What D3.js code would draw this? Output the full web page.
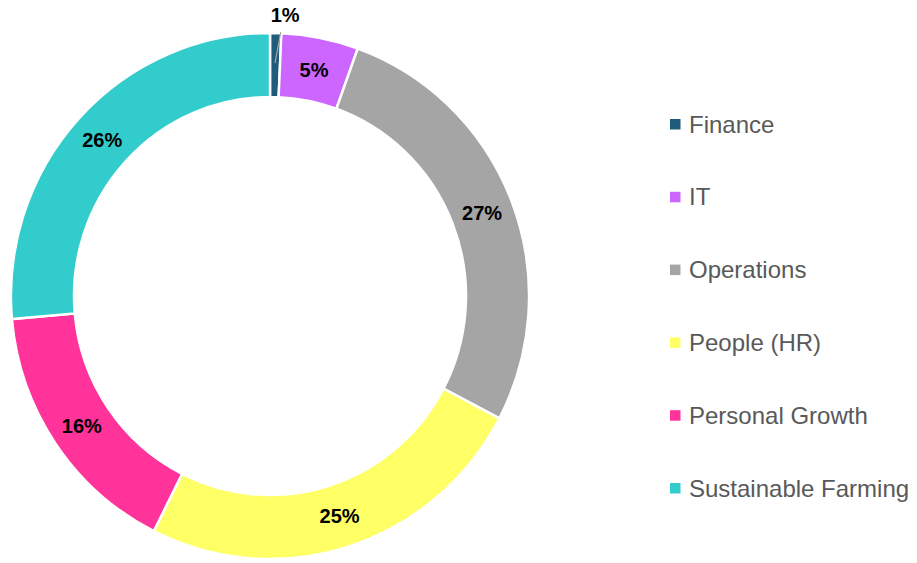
<!DOCTYPE html>
<html>
<head>
<meta charset="utf-8">
<script src="https://cdn.jsdelivr.net/npm/d3@7"></script>
<style>
  body { margin: 0; background: #fff; }
  svg { display: block; }
</style>
</head>
<body>
<script>
'use strict';

var categories = ['Finance', 'IT', 'Operations', 'People (HR)', 'Personal Growth', 'Sustainable Farming'];
var values = [0.7, 4.8, 27.2, 24.7, 16.2, 26.4];
var colors = ['#1F5B7A', '#CC66FF', '#A5A5A5', '#FFFF66', '#FF3399', '#33CCCC'];

var width = 917;
var height = 563;
var cx = 270, cy = 296;
var outerR = 263, innerR = 199;
var sx = 0.985; // the ring is drawn a bit narrower than tall

var svg = d3.select('body')
    .append('svg')
    .attr('width', width)
    .attr('height', height);

var total = d3.sum(values);
var pie = d3.pie().sort(null).value(function(d) { return d; });
var arcs = pie(values);

var arc = d3.arc().innerRadius(innerR).outerRadius(outerR);
var labelArc = d3.arc().innerRadius(231).outerRadius(231);

var ring = svg.append('g')
    .attr('transform', 'translate(' + cx + ',' + cy + ') scale(' + sx + ',1)');

ring.selectAll('path.slice')
    .data(arcs)
    .enter()
    .append('path')
    .attr('class', 'slice')
    .attr('d', arc)
    .attr('fill', function(d, i) { return colors[i]; })
    .attr('stroke', '#fff')
    .attr('stroke-width', 2.5);

var g = svg.append('g').attr('transform', 'translate(' + cx + ',' + cy + ')');

// leader line for the tiny slice
var a0 = (arcs[0].startAngle + arcs[0].endAngle) / 2;
g.append('line')
    .attr('x1', Math.sin(a0) * 233 * sx)
    .attr('y1', -Math.cos(a0) * 233)
    .attr('x2', Math.sin(a0) * 264 * sx + 5)
    .attr('y2', -Math.cos(a0) * 264)
    .attr('stroke', '#A6A6A6')
    .attr('stroke-width', 1.2);

// labels
g.selectAll('text.lbl')
    .data(arcs)
    .enter()
    .append('text')
    .attr('class', 'lbl')
    .attr('transform', function(d, i) {
        var c = labelArc.centroid(d);
        if (i === 0) {
            // small slice: label pulled out above the ring
            var a = (d.startAngle + d.endAngle) / 2;
            return 'translate(' + (Math.sin(a) * 281 * sx + 9) + ',' + (-Math.cos(a) * 281) + ')';
        }
        return 'translate(' + (c[0] * sx) + ',' + c[1] + ')';
    })
    .attr('text-anchor', 'middle')
    .attr('dy', '0.36em')
    .style('font-family', '"Liberation Sans", Arial, sans-serif')
    .style('font-weight', 'bold')
    .style('font-size', '20px')
    .attr('fill', '#000')
    .text(function(d) { return Math.round(d.value / total * 100) + '%'; });

// legend
var legend = svg.append('g').attr('transform', 'translate(670,124)');
var item = legend.selectAll('g.item')
    .data(categories)
    .enter()
    .append('g')
    .attr('class', 'item')
    .attr('transform', function(d, i) { return 'translate(0,' + (i * 72.8) + ')'; });

item.append('rect')
    .attr('x', 0)
    .attr('y', -5)
    .attr('width', 10.5)
    .attr('height', 10.5)
    .attr('fill', function(d, i) { return colors[i]; });

item.append('text')
    .attr('x', 19)
    .attr('dy', '0.36em')
    .style('font-family', '"Liberation Sans", Arial, sans-serif')
    .style('font-size', '24px')
    .attr('fill', '#595959')
    .text(function(d) { return d; });
</script>
</body>
</html>
